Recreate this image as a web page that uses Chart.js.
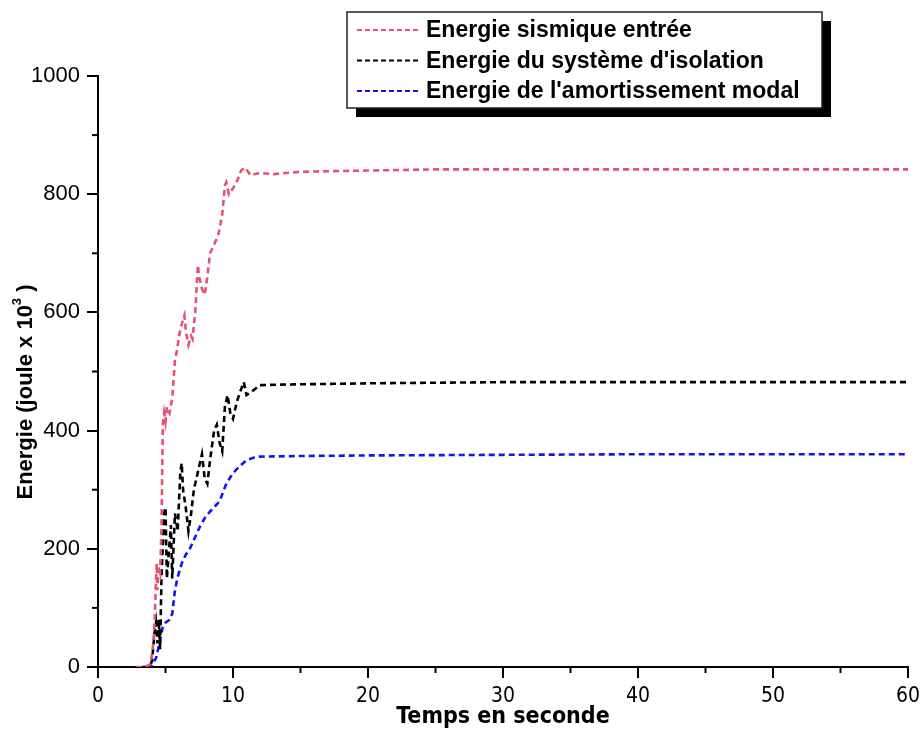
<!DOCTYPE html>
<html>
<head>
<meta charset="utf-8">
<script src="https://cdn.jsdelivr.net/npm/chart.js@4.4.1/dist/chart.umd.min.js"></script>
<style>
  body { margin: 0; background: #fff; }
  canvas { display: block; }
</style>
</head>
<body>
<canvas id="energie" width="923" height="731"></canvas>
<script>
// Energie sismique entrée
let tSismique = [2.8, 3.5, 3.9, 4.1, 4.2, 4.3, 4.35, 4.4, 4.5, 4.6, 4.7, 4.8, 4.9, 5.0, 5.1, 5.3, 5.5, 5.7, 5.85, 6.0, 6.2, 6.4, 6.5, 6.7, 6.9, 7.0, 7.2, 7.4, 7.5, 7.7, 7.9, 8.1, 8.3, 8.6, 8.9, 9.2, 9.4, 9.5, 9.7, 10.0, 10.3, 10.6, 10.9, 11.3, 12, 13, 15, 20, 25, 30, 40, 50, 60];
let eSismique = [0, 0, 5, 40, 80, 150, 175, 130, 170, 160, 230, 410, 430, 415, 440, 430, 455, 520, 535, 560, 580, 595, 570, 545, 560, 555, 600, 680, 660, 640, 630, 660, 700, 715, 730, 765, 815, 820, 800, 810, 822, 840, 845, 832, 836, 834, 838, 840, 842, 842, 842, 842, 842];

// Energie du système d'isolation
let tIsolation = [3.3, 3.8, 4.0, 4.2, 4.3, 4.4, 4.5, 4.6, 4.7, 4.9, 5.0, 5.1, 5.2, 5.4, 5.5, 5.7, 5.9, 6.1, 6.2, 6.3, 6.5, 6.7, 6.9, 7.1, 7.3, 7.5, 7.7, 7.9, 8.1, 8.3, 8.6, 8.8, 9.0, 9.2, 9.4, 9.6, 9.8, 10.0, 10.3, 10.6, 10.8, 11.0, 11.5, 12, 14, 20, 30, 40, 60];
let eIsolation = [0, 0, 10, 60, 75, 40, 80, 30, 150, 260, 270, 150, 180, 240, 150, 260, 230, 330, 345, 300, 270, 230, 260, 300, 320, 340, 360, 320, 310, 350, 400, 410, 380, 365, 440, 460, 430, 420, 450, 470, 482, 460, 468, 477, 478, 480, 482, 482, 482];

// Energie de l'amortissement modal
let tModal = [3.6, 4.0, 4.3, 4.6, 4.8, 5.0, 5.3, 5.5, 5.7, 5.9, 6.2, 6.5, 6.8, 7.2, 7.6, 8.0, 8.5, 9.0, 9.5, 10.0, 10.5, 11.0, 11.5, 12, 15, 20, 30, 40, 60];
let eModal = [0, 3, 15, 45, 68, 75, 80, 90, 130, 152, 175, 190, 200, 220, 240, 255, 268, 280, 310, 328, 340, 350, 354, 356, 357, 358, 359, 360, 360];

let labels = ['Energie sismique entrée', "Energie du système d'isolation", "Energie de l'amortissement modal"];
let couleurs = ['#e5536f', '#000000', '#1515f0'];

let xTicks = [0, 10, 20, 30, 40, 50, 60];
let yTicks = [0, 200, 400, 600, 800, 1000];

function points(t, e) {
  return t.map((v, i) => ({x: v, y: e[i]}));
}

// ticks mineurs + titre de l'axe y (avec exposant)
const axesExtra = {
  id: 'axesExtra',
  afterDraw(chart) {
    const c = chart.ctx, xs = chart.scales.x, ys = chart.scales.y;
    c.save();
    c.strokeStyle = '#000';
    c.lineWidth = 2;
    for (let i = 0; i < xTicks.length - 1; i++) {
      const px = xs.getPixelForValue((xTicks[i] + xTicks[i + 1]) / 2);
      c.beginPath(); c.moveTo(px, ys.bottom); c.lineTo(px, ys.bottom + 6); c.stroke();
    }
    for (let i = 0; i < yTicks.length - 1; i++) {
      const py = ys.getPixelForValue((yTicks[i] + yTicks[i + 1]) / 2);
      c.beginPath(); c.moveTo(xs.left, py); c.lineTo(xs.left - 6, py); c.stroke();
    }
    // titre y
    c.translate(32, 392);
    c.rotate(-Math.PI / 2);
    c.fillStyle = '#000';
    c.textBaseline = 'alphabetic';
    const f1 = 'bold 22px "Liberation Sans", Arial, sans-serif';
    const f2 = 'bold 13px "Liberation Sans", Arial, sans-serif';
    const p1 = 'Energie (joule x 10', p2 = '3', p3 = ' )';
    c.font = f1; const w1 = c.measureText(p1).width, w3 = c.measureText(p3).width;
    c.font = f2; const w2 = c.measureText(p2).width;
    let x = -(w1 + w2 + w3) / 2;
    c.font = f1; c.fillText(p1, x, 0); x += w1;
    c.font = f2; c.fillText(p2, x, -11); x += w2;
    c.font = f1; c.fillText(p3, x, 0);
    c.restore();
  }
};

// légende encadrée avec ombre
const legendeBoite = {
  id: 'legendeBoite',
  afterDraw(chart) {
    const c = chart.ctx;
    const bx = 347, by = 12, bw = 475, bh = 96;
    c.save();
    c.fillStyle = '#000';
    c.fillRect(bx + 9, by + 9, bw, bh);
    c.fillStyle = '#fff';
    c.fillRect(bx, by, bw, bh);
    c.strokeStyle = '#222';
    c.lineWidth = 1.5;
    c.strokeRect(bx, by, bw, bh);
    chart.data.datasets.forEach((ds, i) => {
      const y = by + 18 + i * 30.5;
      c.strokeStyle = ds.borderColor;
      c.lineWidth = 2;
      c.setLineDash([5, 3]);
      c.beginPath(); c.moveTo(357, y); c.lineTo(421, y); c.stroke();
      c.setLineDash([]);
      c.fillStyle = '#000';
      c.font = 'bold 23px "Liberation Sans", Arial, sans-serif';
      c.textBaseline = 'middle';
      c.fillText(ds.label, 426, y + 1);
    });
    c.restore();
  }
};

const ctx = document.getElementById('energie').getContext('2d');
const myChart = new Chart(ctx, {
  type: 'line',
  data: {
    datasets: [
      {label: labels[0], data: points(tSismique, eSismique), borderColor: couleurs[0]},
      {label: labels[1], data: points(tIsolation, eIsolation), borderColor: couleurs[1]},
      {label: labels[2], data: points(tModal, eModal), borderColor: couleurs[2]}
    ].map(ds => Object.assign(ds, {borderWidth: 2.6, borderDash: [6, 4], pointRadius: 0, tension: 0, fill: false}))
  },
  options: {
    responsive: false,
    animation: false,
    layout: {padding: {top: 76, right: 15, left: 0, bottom: 0}},
    plugins: {legend: {display: false}, tooltip: {enabled: false}},
    scales: {
      x: {
        type: 'linear',
        min: 0, max: 60,
        afterFit: s => { s.height = 64; s.paddingRight = 0; },
        afterBuildTicks: s => { s.ticks = xTicks.map(v => ({value: v})); },
        ticks: {color: '#000', padding: 6, callback: v => String(v),
                font: {family: '"DejaVu Sans Condensed", "Liberation Sans", Arial', size: 21}},
        grid: {drawOnChartArea: false, tickLength: 11, color: '#000', lineWidth: 2},
        border: {color: '#000', width: 2},
        title: {display: true, text: 'Temps en seconde', color: '#000', padding: 0,
                font: {family: '"DejaVu Sans Condensed", "Liberation Sans", Arial', size: 23, weight: 'bold'}}
      },
      y: {
        min: 0, max: 1000,
        afterFit: s => { s.width = 98; },
        afterBuildTicks: s => { s.ticks = yTicks.map(v => ({value: v})); },
        ticks: {color: '#000', padding: 7, callback: v => String(v),
                font: {family: '"Liberation Sans", Arial', size: 22}},
        grid: {drawOnChartArea: false, tickLength: 11, color: '#000', lineWidth: 2},
        border: {color: '#000', width: 2}
      }
    }
  },
  plugins: [axesExtra, legendeBoite]
});
</script>
</body>
</html>
